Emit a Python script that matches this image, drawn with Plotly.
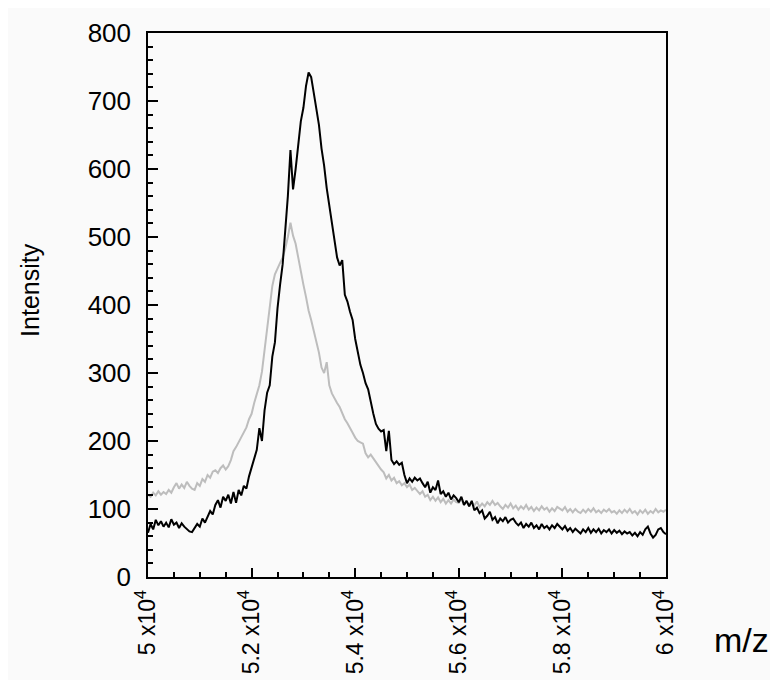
import numpy as np
import plotly.graph_objects as go

# m/z grid (step 50 from 50000 to 60000)
mz = np.arange(50000, 60001, 50)

# Black trace intensities, rows of 10 = 500 m/z each
black_intensity = [
    65, 78, 70, 84, 76, 82, 74, 80, 73, 85,
    77, 80, 72, 79, 74, 70, 67, 66, 72, 78,
    74, 86, 80, 90, 97, 92, 106, 113, 102, 118,
    112, 121, 108, 125, 109, 128, 120, 134, 130, 148,
    162, 172, 187, 219, 200, 245, 271, 282, 324, 345,
    395, 430, 460, 510, 560, 628, 570, 600, 635, 670,
    690, 722, 742, 735, 712, 690, 665, 630, 605, 572,
    548, 525, 500, 470, 458, 466, 415, 405, 390, 378,
    350, 330, 312, 300, 285, 276, 255, 240, 225, 218,
    214, 216, 185, 215, 172, 166, 170, 165, 168, 150,
    138, 145, 140, 146, 142, 145, 138, 132, 140, 124,
    132, 128, 142, 122, 126, 118, 124, 114, 120, 116,
    110, 118, 106, 112, 104, 112, 98, 102, 94, 98,
    86, 90, 96, 84, 88, 79, 86, 82, 88, 80,
    84, 86, 80, 76, 80, 72, 78, 74, 80, 72,
    76, 70, 78, 72, 75, 70, 76, 72, 78, 74,
    70, 75, 68, 72, 66, 71, 67, 64, 70, 66,
    72, 65, 70, 66, 71, 64, 69, 66, 70, 64,
    69, 65, 68, 63, 67, 64, 66, 61, 65, 60,
    66, 62, 70, 74, 64, 58, 62, 70, 72, 66,
    63,
]

# Gray trace intensities
gray_intensity = [
    121, 118, 124, 120, 126, 121, 125, 122, 128, 124,
    132, 138, 130, 136, 131, 140, 134, 130, 128, 138,
    134, 144, 140, 150, 146, 155, 157, 153, 160, 164,
    158, 163, 172, 185, 191, 198, 205, 212, 220, 232,
    240, 256, 268, 282, 302, 335, 365, 395, 428, 445,
    455, 462, 470, 483, 500, 521, 502, 490, 470, 448,
    430, 412, 392, 378, 362, 346, 330, 308, 300, 316,
    282, 270, 262, 256, 250, 241, 232, 226, 220, 212,
    205, 200, 198, 196, 182, 176, 180, 174, 168, 162,
    158, 154, 145, 150, 142, 146, 138, 141, 135, 138,
    132, 136, 128, 131, 126, 122, 126, 118, 121, 113,
    118, 112, 117, 110, 115, 108, 113, 108, 114, 110,
    109, 115, 106, 112, 104, 110, 105, 111, 103, 108,
    104, 110, 106, 112, 106, 109, 104, 100, 106, 102,
    108, 101, 105, 99, 104, 100, 106, 99, 103, 97,
    102, 98, 104, 99, 102, 96, 101, 97, 103, 101,
    98, 103, 96, 100, 95, 100, 96, 94, 99, 95,
    100, 96, 101, 95, 98, 94, 99, 96, 100, 95,
    97, 93, 98, 94, 99, 95, 100, 94, 97, 92,
    98, 94, 99, 93, 97, 94, 100, 95, 98, 96,
    99,
]

x_tickvals = [50000, 52000, 54000, 56000, 58000, 60000]
x_ticktext = ["5 x10<sup>4</sup>", "5.2 x10<sup>4</sup>", "5.4 x10<sup>4</sup>",
              "5.6 x10<sup>4</sup>", "5.8 x10<sup>4</sup>", "6 x10<sup>4</sup>"]
y_tickvals = [0, 100, 200, 300, 400, 500, 600, 700, 800]

FONT = "Liberation Sans, Arial, Helvetica, sans-serif"
BG = "#fafafa"

fig = go.Figure()
fig.add_trace(go.Scatter(x=mz, y=gray_intensity, mode="lines",
                         line=dict(color="#bdbdbd", width=2), hoverinfo="skip"))
fig.add_trace(go.Scatter(x=mz, y=black_intensity, mode="lines",
                         line=dict(color="#000000", width=2), hoverinfo="skip"))

fig.update_layout(
    width=770, height=672,
    margin=dict(l=140, r=112, t=25, b=103, autoexpand=False),
    paper_bgcolor=BG, plot_bgcolor=BG,
    showlegend=False,
    font=dict(family=FONT, color="#000000", size=26),
    xaxis=dict(
        range=[50000, 60000], tickmode="array", tickvals=x_tickvals, ticktext=x_ticktext,
        tickangle=-90, ticks="inside", ticklen=9, tickwidth=1.5, tickcolor="#000",
        showline=True, linecolor="#000", linewidth=1.5, mirror=True,
        showgrid=False, zeroline=False, tickfont=dict(size=23, family=FONT),
        ticklabelstandoff=2, automargin=False,
        minor=dict(tickmode="linear", tick0=50000, dtick=500, ticks="inside",
                   ticklen=5, tickwidth=1.5, tickcolor="#000", showgrid=False),
    ),
    yaxis=dict(
        range=[0, 800], tickmode="array", tickvals=y_tickvals,
        ticks="inside", ticklen=10, tickwidth=1.5, tickcolor="#000",
        showline=True, linecolor="#000", linewidth=1.5, mirror=True,
        showgrid=False, zeroline=False, tickfont=dict(size=26, family=FONT),
        ticklabelstandoff=10, automargin=False,
        minor=dict(tickmode="linear", tick0=0, dtick=20, ticks="inside",
                   ticklen=5, tickwidth=1.5, tickcolor="#000", showgrid=False),
    ),
    annotations=[
        dict(text="Intensity", textangle=-90, xref="paper", yref="paper",
             x=-0.228, y=0.5276, xanchor="center", yanchor="middle",
             showarrow=False, font=dict(size=25, family=FONT)),
        dict(text="m/z", xref="paper", yref="paper",
             x=1.1467, y=-0.1158, xanchor="center", yanchor="middle",
             showarrow=False, font=dict(size=34, family=FONT)),
    ],
)

fig.write_html("out.html")
